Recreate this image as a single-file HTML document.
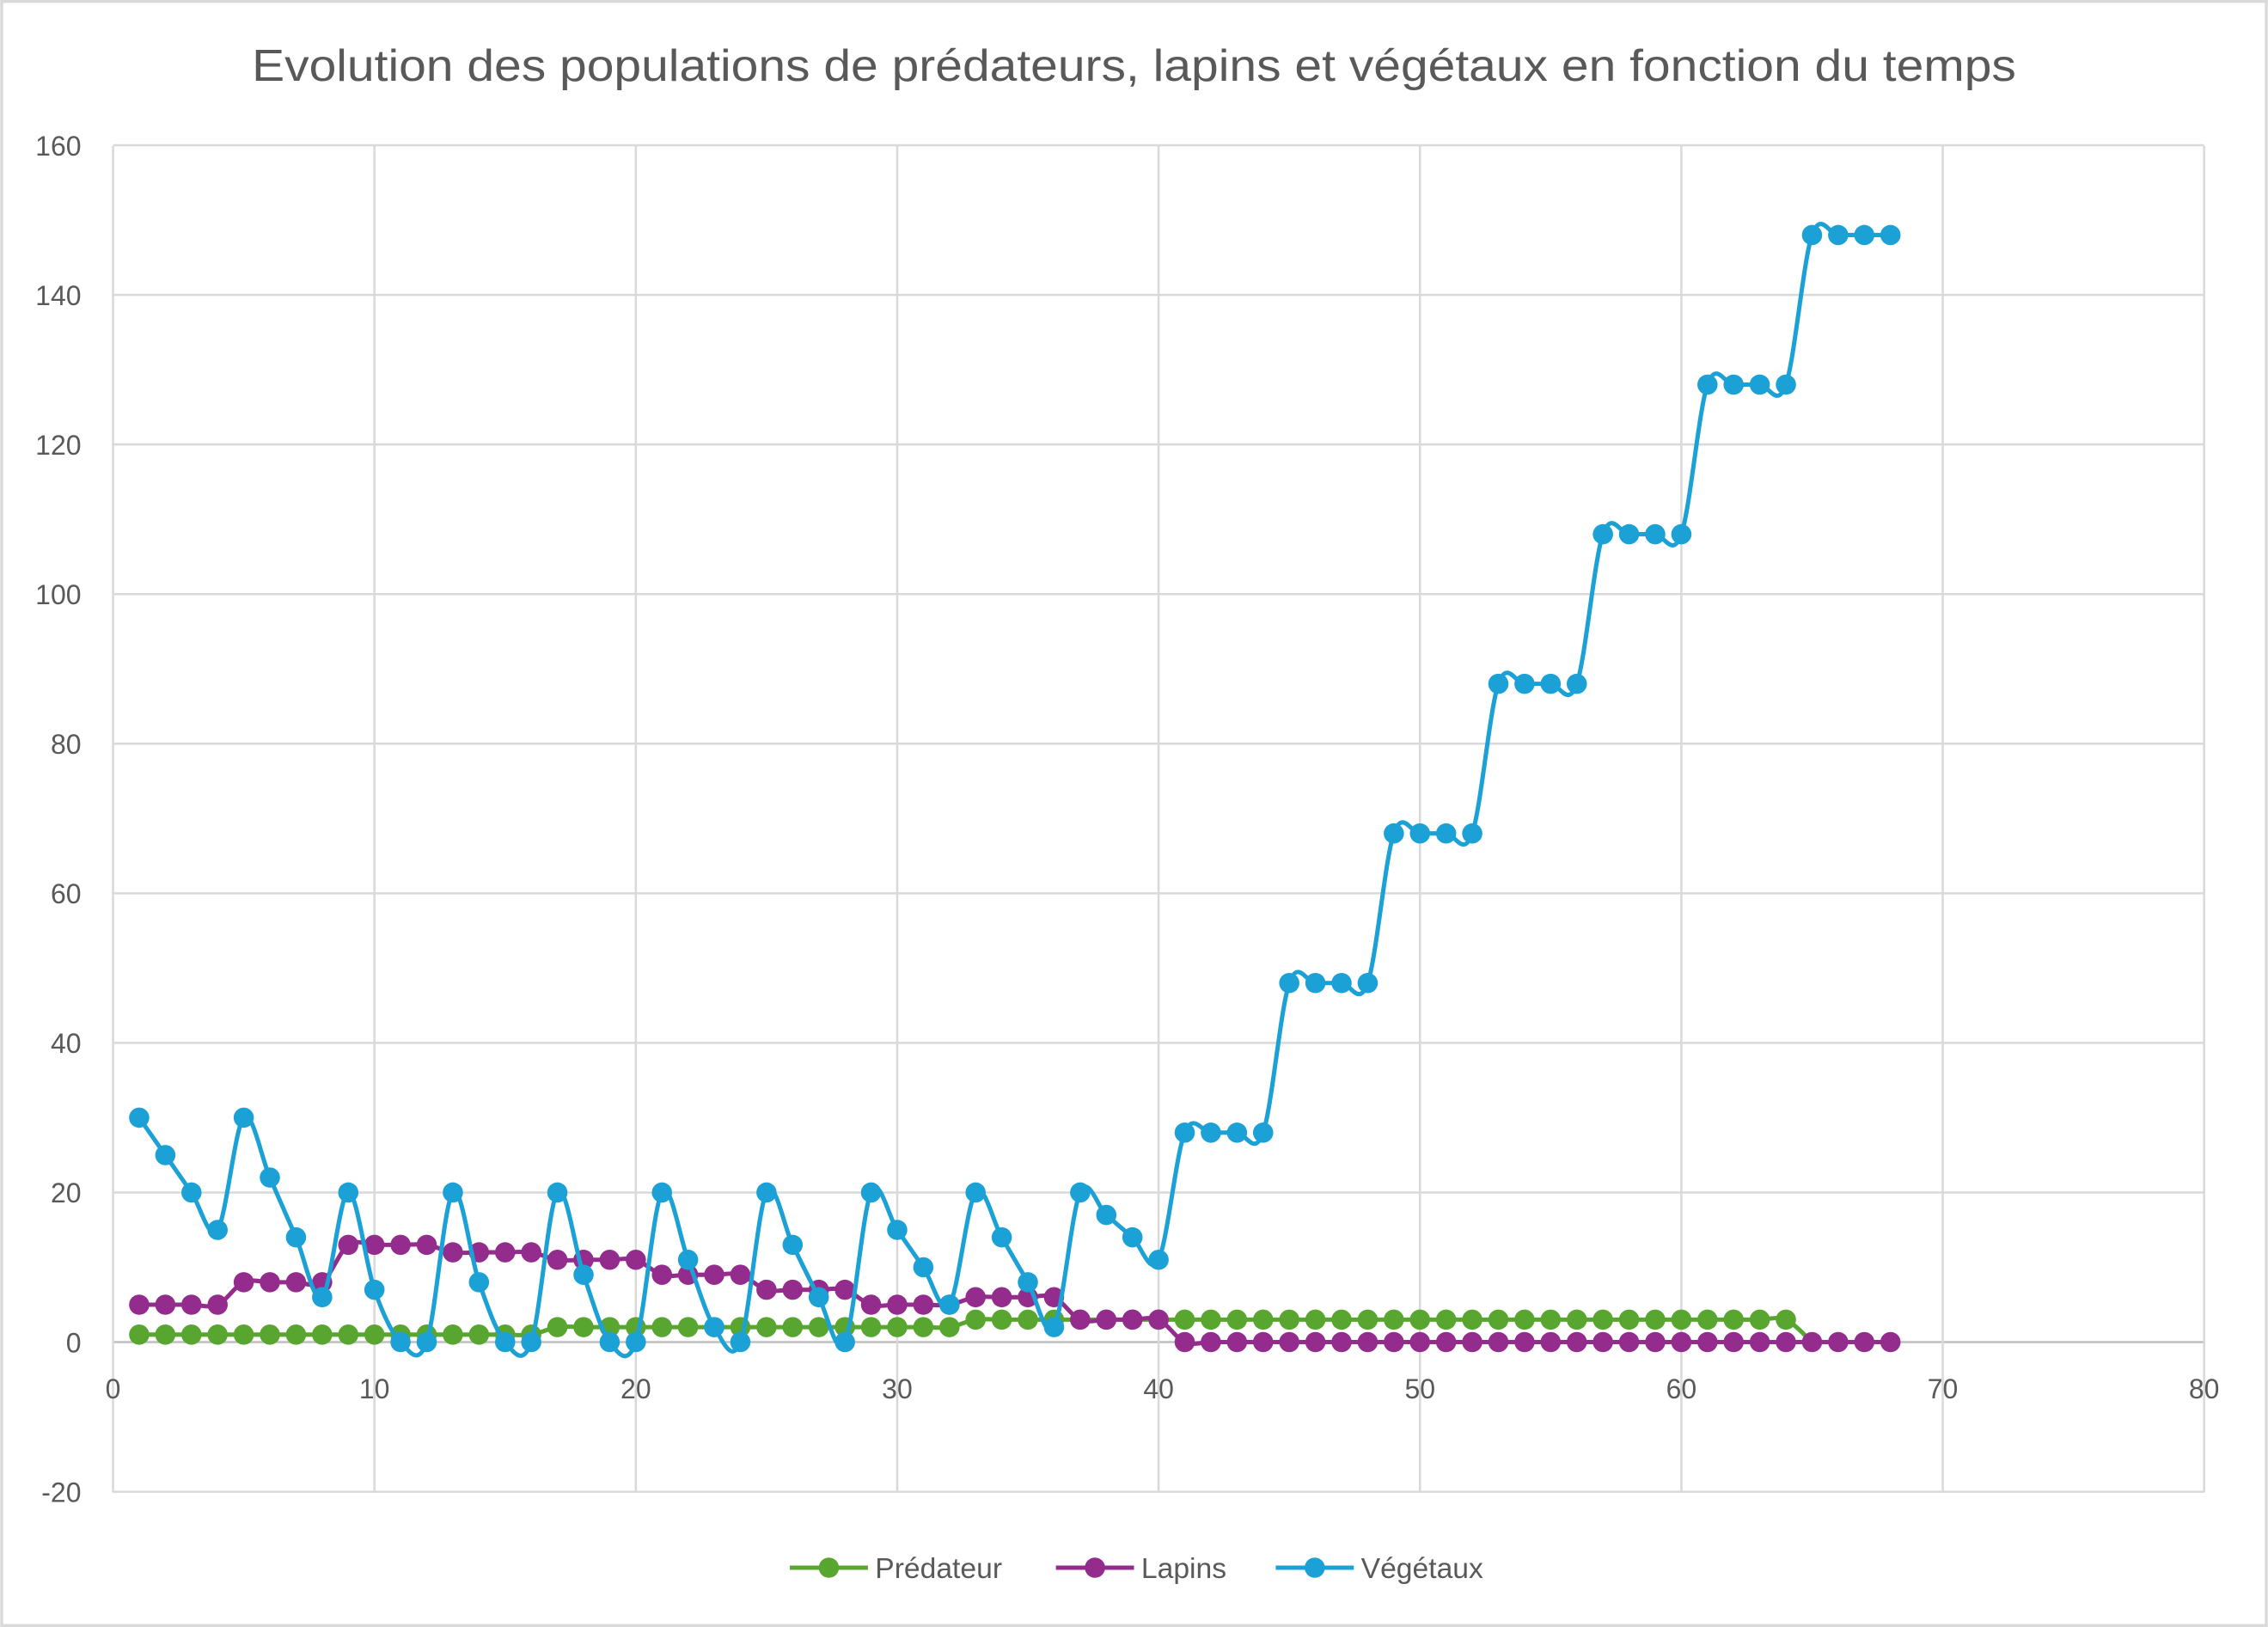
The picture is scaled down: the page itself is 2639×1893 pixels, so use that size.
<!DOCTYPE html>
<html><head><meta charset="utf-8"><style>
html,body{margin:0;padding:0;background:#fff;}
svg{display:block;}
text{font-family:"Liberation Sans",sans-serif;fill:#595959;}
</style></head><body>
<svg id="s" width="2639" height="1893" viewBox="0 0 1568 1125" xmlns="http://www.w3.org/2000/svg">
<rect x="1" y="1" width="1566" height="1123" fill="#fff" stroke="#d9d9d9" stroke-width="2"/>
<text x="784" y="56" font-size="31" text-anchor="middle" textLength="1220" lengthAdjust="spacingAndGlyphs">Evolution des populations de prédateurs, lapins et végétaux en fonction du temps</text>
<g id="grid"></g>
<g id="series"></g>
<g id="legend">
<line x1="546" y1="1084" x2="600" y2="1084" stroke="#58a630" stroke-width="3"/><circle cx="573" cy="1084" r="7" fill="#58a630"/>
<text x="605" y="1091" font-size="20">Prédateur</text>
<line x1="730" y1="1084" x2="784" y2="1084" stroke="#932c8c" stroke-width="3"/><circle cx="757" cy="1084" r="7" fill="#932c8c"/>
<text x="789" y="1091" font-size="20">Lapins</text>
<line x1="882" y1="1084" x2="936" y2="1084" stroke="#1ba1d6" stroke-width="3"/><circle cx="909" cy="1084" r="7" fill="#1ba1d6"/>
<text x="941" y="1091" font-size="20">Végétaux</text>
</g>
</svg>
<script>
function X(t){return 78+t*(1524-78)/80;}
function Y(v){return 928-v*(1032-101)/180;}
var g=document.getElementById('grid'),h='';
for(var v=-20;v<=160;v+=20){var y=Y(v);h+='<line x1="78" y1="'+y+'" x2="1524" y2="'+y+'" stroke="'+(v==0?'#bfbfbf':'#d9d9d9')+'" stroke-width="1.5"/>';
h+='<text x="56" y="'+(y+7)+'" font-size="19" text-anchor="end">'+v+'</text>';}
for(var t=0;t<=80;t+=10){var x=X(t);h+='<line x1="'+x+'" y1="101" x2="'+x+'" y2="1032" stroke="#d9d9d9" stroke-width="1.5"/>';
h+='<text x="'+x+'" y="967" font-size="19" text-anchor="middle">'+t+'</text>';}
g.innerHTML=h;
function rep(a,n){var r=[];for(var i=0;i<n;i++)r.push(a);return r;}
var pred=[].concat(rep(1,16),rep(2,16),rep(3,32),[0]);
var lap=[].concat(rep(5,4),rep(8,4),rep(13,4),rep(12,4),rep(11,4),rep(9,4),rep(7,4),rep(5,4),rep(6,4),rep(3,4),rep(0,28));
var veg=[30,25,20,15,30,22,14,6,20,7,0,0,20,8,0,0,20,9,0,0,20,11,2,0,20,13,6,0,20,15,10,5,20,14,8,2,20,17,14,11].concat(rep(28,4),rep(48,4),rep(68,4),rep(88,4),rep(108,4),rep(128,4),rep(148,4));
function path(d){var p=d.map(function(v,i){return [X(i+1),Y(v)];});
var s='M'+p[0][0]+','+p[0][1];
for(var i=0;i<p.length-1;i++){var p0=p[i-1]||p[i],p1=p[i],p2=p[i+1],p3=p[i+2]||p2;
var c1=[p1[0]+(p2[0]-p0[0])/6,p1[1]+(p2[1]-p0[1])/6],c2=[p2[0]-(p3[0]-p1[0])/6,p2[1]-(p3[1]-p1[1])/6];
s+=' C'+c1+' '+c2+' '+p2;}return s;}
function ser(d,c,pts){var h='<path d="'+path(d)+'" fill="none" stroke="'+c+'" stroke-width="3"/>';
for(var i=0;i<pts;i++)h+='<circle cx="'+X(i+1)+'" cy="'+Y(d[i])+'" r="7" fill="'+c+'"/>';return h;}
document.getElementById('series').innerHTML=ser(pred,'#58a630',64)+ser(lap,'#932c8c',68)+ser(veg,'#1ba1d6',68);
</script>
</body></html>
